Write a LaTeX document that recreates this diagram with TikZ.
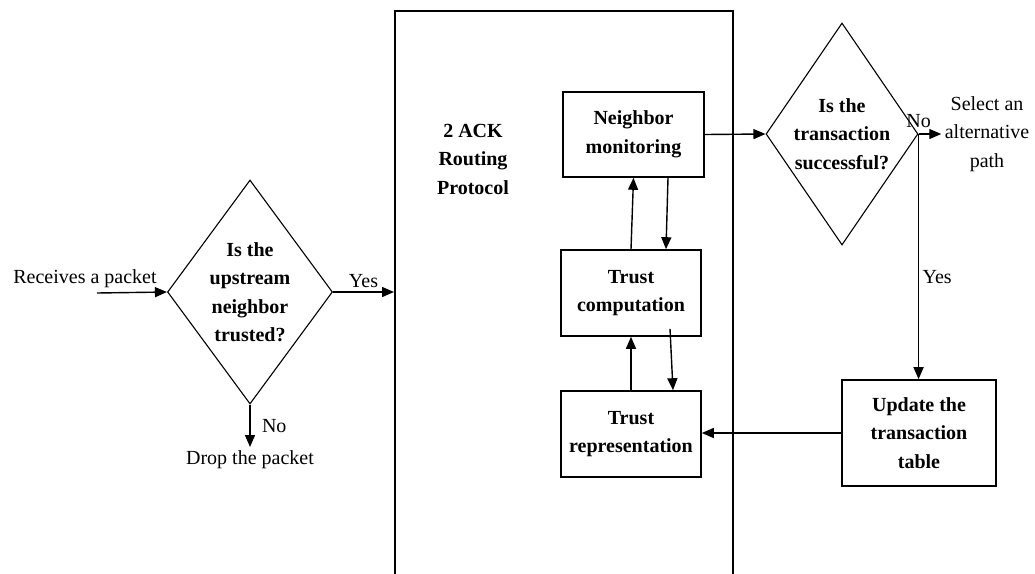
\documentclass[tikz,border=0pt]{standalone}
\usepackage{fontspec}
\setmainfont{Liberation Serif}
\usetikzlibrary{shapes.geometric,arrows.meta}

\begin{document}
\begin{tikzpicture}[x=1pt,y=1pt,
  every node/.style={font=\fontsize{20}{28.5}\selectfont, align=center},
  block/.style={draw, line width=1.6pt, inner sep=0pt, font=\fontsize{20}{28.5}\selectfont\bfseries},
  decision/.style={draw, diamond, line width=1.1pt, inner sep=0pt, font=\fontsize{20}{28.5}\selectfont\bfseries},
  link/.style={line width=1.4pt, -{Triangle[length=12pt,width=10pt]}}]
\useasboundingbox (0,0) rectangle (1035,-573);
% protocol frame, open at the bottom
\node (frame) [draw, line width=1.6pt, minimum width=338, minimum height=640, anchor=north west] at (394,-10) {};
\node (proto) [font=\fontsize{20}{28.5}\selectfont\bfseries] at (473,-159) {2 ACK\\ Routing\\ Protocol};
% left decision
\node (recv) [anchor=base] at (85,-283) {Receives a packet};
\coordinate (feed) at (97,-293);
\node (upstream) [decision, aspect=0.737, minimum width=165, minimum height=224] at (250,-292) {Is the\\ upstream\\ neighbor\\ trusted?};
\node (drop) [anchor=north] at (250,-447) {Drop the packet};
\draw [link] (feed) -- (upstream.west);
\draw [link] (upstream.east) -- node [above] {Yes} (upstream.east -| frame.west);
\draw [link] (upstream.south) -- node [right=8pt] {No} (drop.north);
% trust blocks
\node (monitor) [block, minimum width=141, minimum height=85] at (633.5,-134.5) {Neighbor\\ monitoring};
\node (compute) [block, minimum width=140, minimum height=86] at (631,-293) {Trust\\ computation};
\node (represent) [block, minimum width=140, minimum height=86] at (631,-434) {Trust\\ representation};
\draw [link] (compute.north) -- (monitor.south);
\draw [link] ([xshift=34.5pt]monitor.south) -- ([xshift=35pt]compute.north);
\draw [link] ([xshift=39pt,yshift=8pt]compute.south) -- ([xshift=42pt]represent.north);
\draw [link] (represent.north) -- (compute.south);
% right decision
\node (trans) [decision, aspect=0.685, minimum width=152, minimum height=222] at (842,-134) {Is the\\ transaction\\ successful?};
\node (altpath) at (987,-134) {Select an\\ alternative\\ path};
\node (update) [block, minimum width=154, minimum height=106] at (919,-433) {Update the\\ transaction\\ table};
\draw [link] (monitor.east) -- (trans.west);
\draw [link] (trans.east) -- node [pos=0, above, yshift=2pt] {No} (altpath.west);
\draw [link] (trans.east) -- node [right, pos=0.585] {Yes} (trans.east |- update.north);
\draw [link] (update.west) -- (update.west -| represent.east);
\end{tikzpicture}
\end{document}
